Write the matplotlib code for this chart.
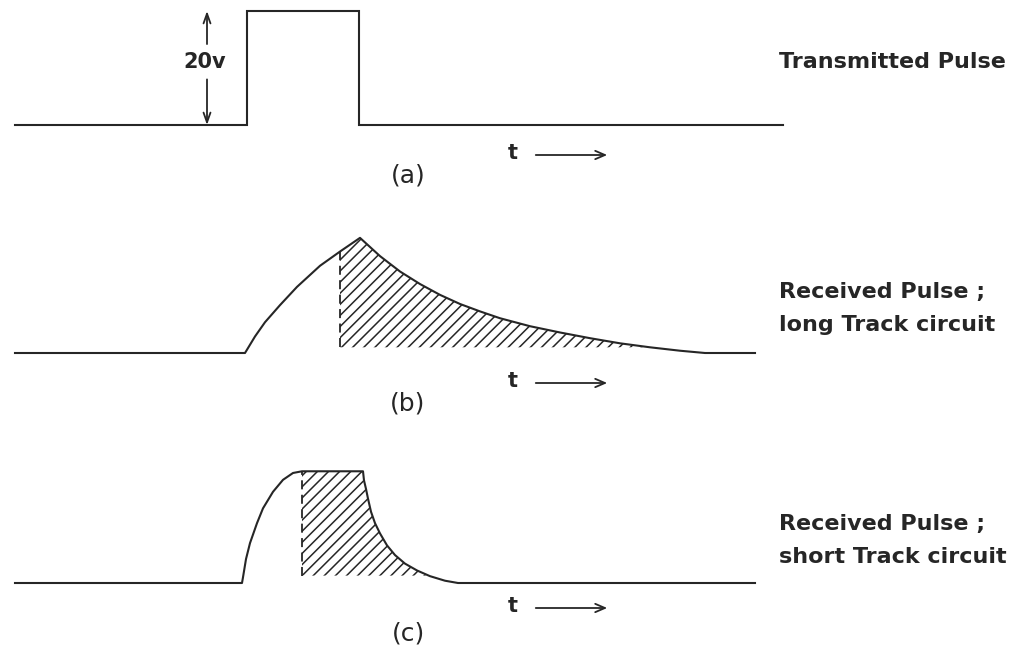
import matplotlib
matplotlib.use("Agg")
import matplotlib.pyplot as plt
import numpy as np

plt.rcParams['font.family'] = ['DejaVu Sans']
plt.rcParams['hatch.linewidth'] = 1.1

INK = '#262626'

# ---------------- data (time in drawing units, voltage in V) ----------------
# (a) transmitted pulse
t_a = [15, 247, 247, 359, 359, 783]
v_a = [0, 0, 20, 20, 0, 0]

# (b) received pulse, long track circuit
t_b = [15, 245, 255, 265, 280, 297, 320, 340, 360, 380, 400, 420, 440, 460,
       480, 500, 530, 560, 590, 620, 650, 680, 705, 755]
v_b = [0, 0, 2.9, 5.4, 8.4, 11.6, 15.3, 17.8, 20.2, 17.0, 14.3, 12.1, 10.2,
       8.6, 7.3, 6.1, 4.7, 3.6, 2.6, 1.7, 1.0, 0.4, 0, 0]
cut_b = 340          # dashed cut-off instant
floor_b = 1.0        # lower edge of shaded area

# (c) received pulse, short track circuit
t_c = [15, 242, 243, 246, 250, 257, 263, 273, 283, 293, 302, 363, 364, 366,
       368, 371, 375, 380, 387, 395, 405, 417, 430, 445, 458, 755]
v_c = [0, 0, 1.0, 4.2, 7.0, 10.5, 13.1, 16.0, 18.1, 19.3, 19.6, 19.6, 18.0,
       16.5, 14.8, 12.5, 10.5, 8.7, 6.6, 4.9, 3.4, 2.2, 1.2, 0.4, 0, 0]
cut_c = 302
floor_c = 1.3

amp_label = "20v"
panel_labels = ["(a)", "(b)", "(c)"]
side_labels = [["Transmitted Pulse"],
               ["Received Pulse ;", "long Track circuit"],
               ["Received Pulse ;", "short Track circuit"]]

# ---------------- layout ----------------
W, H = 1033, 649
fig = plt.figure(figsize=(W / 100, H / 100), dpi=100)
PX_PER_V = 5.7
V_LO, V_HI = -8, 22
baselines = [125, 353, 583]   # pixel rows (from top) of the zero-volt lines


def make_ax(base_row):
    base_from_bottom = H - base_row
    bottom = base_from_bottom + V_LO * PX_PER_V
    height = (V_HI - V_LO) * PX_PER_V
    ax = fig.add_axes([0, bottom / H, 1, height / H])
    ax.set_xlim(0, W)
    ax.set_ylim(V_LO, V_HI)
    ax.axis('off')
    return ax


def fx(x):
    return x / W


def fy(y):
    return 1 - y / H


axes = [make_ax(b) for b in baselines]
lw = 1.5

# (a)
ax = axes[0]
ax.plot(t_a, v_a, color=INK, lw=lw, solid_joinstyle='miter')
ax.annotate('', xy=(207, 20), xytext=(207, 14.2),
            arrowprops=dict(arrowstyle='->,head_length=0.7,head_width=0.25',
                            color=INK, lw=1.3, shrinkA=0, shrinkB=0))
ax.annotate('', xy=(207, 0), xytext=(207, 8.0),
            arrowprops=dict(arrowstyle='->,head_length=0.7,head_width=0.25',
                            color=INK, lw=1.3, shrinkA=0, shrinkB=0))
ax.text(205, 11.0, amp_label, ha='center', va='center', fontsize=15,
        color=INK, fontweight='bold')


def shaded(ax, t, v, cut, floor):
    tt = np.asarray(t, float)
    vv = np.asarray(v, float)
    idx = np.where(tt >= cut)[0]
    v_cut = np.interp(cut, tt, vv)
    xs = np.concatenate([[cut], tt[idx]])
    ys = np.concatenate([[v_cut], vv[idx]])
    ax.fill_between(xs, floor, ys, where=ys > floor, interpolate=True,
                    facecolor='none', edgecolor=INK, hatch='///', lw=0)
    ax.plot([cut, cut], [floor, v_cut], color=INK, lw=1.3, ls=(0, (5, 3)))


# (b)
ax = axes[1]
shaded(ax, t_b, v_b, cut_b, floor_b)
ax.plot(t_b, v_b, color=INK, lw=lw)

# (c)
ax = axes[2]
shaded(ax, t_c, v_c, cut_c, floor_c)
ax.plot(t_c, v_c, color=INK, lw=lw)

# panel letters and time arrows
for i, base in enumerate(baselines):
    ty = base + 30 if i < 2 else base + 25
    ly = base + 50
    fig.text(fx(408), fy(ly), panel_labels[i], ha='center', va='center',
             fontsize=18, color=INK)
    fig.text(fx(513), fy(ty - 2), 't', ha='center', va='center', fontsize=15,
             color=INK, fontweight='bold')
    fig.add_artist(matplotlib.patches.FancyArrowPatch(
        (fx(533), fy(ty)), (fx(610), fy(ty)), transform=fig.transFigure,
        arrowstyle='->,head_length=7,head_width=3', color=INK, lw=1.3))

# side captions
side_rows = [[62], [292, 325], [524, 557]]
for labels, rows in zip(side_labels, side_rows):
    for lab, r in zip(labels, rows):
        fig.text(fx(779), fy(r), lab, ha='left', va='center', fontsize=16,
                 color=INK, fontweight='bold')

fig.savefig('out.png', dpi=100, facecolor='white')
